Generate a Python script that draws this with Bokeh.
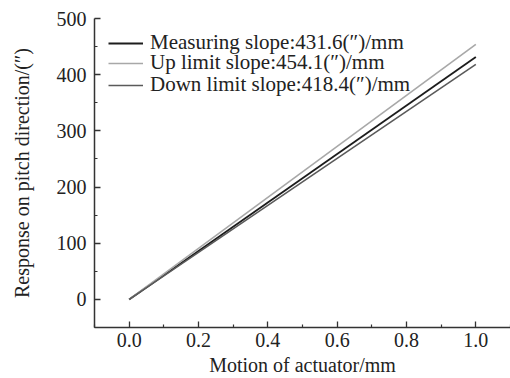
from bokeh.plotting import figure
from bokeh.models import Range1d, Legend, LegendItem, FixedTicker
from bokeh.embed import file_html
from bokeh.resources import INLINE

motion = [0.0, 1.0]
measuring = [0.0, 431.6]
up_limit = [0.0, 454.1]
down_limit = [0.0, 418.4]
labels = ["Measuring slope:431.6(\u2033)/mm", "Up limit slope:454.1(\u2033)/mm", "Down limit slope:418.4(\u2033)/mm"]
x_ticks = [0.0, 0.2, 0.4, 0.6, 0.8, 1.0]
y_ticks = [0, 100, 200, 300, 400, 500]

FONT = "Liberation Serif"

p = figure(width=510, height=378, output_backend="svg", toolbar_location=None,
           x_range=Range1d(-0.1, 1.1), y_range=Range1d(-50, 500),
           min_border_left=94, min_border_right=0, min_border_top=18, min_border_bottom=50)
p.outline_line_color = None
p.grid.visible = False
p.background_fill_color = "white"

r1 = p.line(motion, measuring, line_color="#1c1c1c", line_width=1.8)
r2 = p.line(motion, up_limit, line_color="#a8a8a8", line_width=1.6)
r3 = p.line(motion, down_limit, line_color="#5a5a5a", line_width=1.6)

# one single-item legend per row, so the row spacing can follow the reference
row_tops = [272, 252, 230]
for lab, rend, top in zip(labels, [r1, r2, r3], row_tops):
    lg = Legend(items=[LegendItem(label=lab, renderers=[rend])],
                location=(14, top), border_line_color=None, background_fill_alpha=0,
                label_text_font=FONT, label_text_font_size="21px", label_text_color="#222",
                glyph_width=35, glyph_height=18, label_standoff=7,
                label_height=18, margin=0, padding=0)
    p.add_layout(lg, "center")

for ax in (p.xaxis[0], p.yaxis[0]):
    ax.axis_line_color = "#333"
    ax.axis_line_width = 1.5
    ax.major_tick_line_color = "#333"
    ax.minor_tick_line_color = "#333"
    ax.major_tick_line_width = 1.3
    ax.minor_tick_line_width = 1.2
    ax.major_tick_in = 6
    ax.major_tick_out = 0
    ax.minor_tick_in = 3
    ax.minor_tick_out = 0
    ax.major_label_text_font = FONT
    ax.major_label_text_font_size = "20px"
    ax.major_label_text_color = "#222"
    ax.axis_label_text_font = FONT
    ax.axis_label_text_font_size = "20px"
    ax.axis_label_text_font_style = "normal"
    ax.axis_label_text_color = "#222"

p.xaxis[0].ticker = FixedTicker(ticks=x_ticks, minor_ticks=[-0.1, 0.1, 0.3, 0.5, 0.7, 0.9, 1.1])
p.yaxis[0].ticker = FixedTicker(ticks=y_ticks, minor_ticks=[-50, 50, 150, 250, 350, 450])
p.xaxis[0].major_label_overrides = {t: f"{t:.1f}" for t in x_ticks}
p.xaxis[0].axis_label = "Motion of actuator/mm"
p.yaxis[0].axis_label = "Response on pitch direction/(\u2033)"
p.xaxis[0].major_label_standoff = 5
p.yaxis[0].major_label_standoff = 8
p.xaxis[0].axis_label_standoff = 4
p.yaxis[0].axis_label_standoff = 21

open("out.html", "w").write(file_html(p, INLINE))
